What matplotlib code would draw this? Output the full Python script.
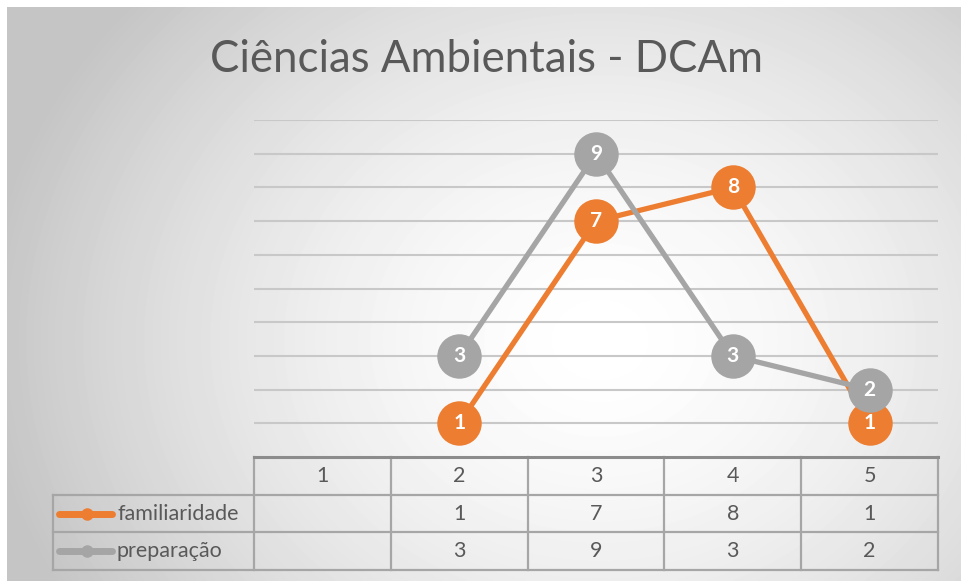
import numpy as np
import matplotlib
matplotlib.use("Agg")
from matplotlib import pyplot as plt

# ---------------------------- Dados ---------------------------- #
categorias = [1, 2, 3, 4, 5]
familiaridade = [None, 1, 7, 8, 1]
preparacao = [None, 3, 9, 3, 2]
series_nomes = ["familiaridade", "preparação"]
cores = ["#ED7D31", "#A5A5A5"]

titulo = "Ciências Ambientais - DCAm"

plt.rcParams["font.family"] = ["Lato", "DejaVu Sans"]
texto_cor = "#595959"
linha_tabela = "#A6A6A6"

# ---------------------------- Figura ---------------------------- #
W, H = 962, 581
fig = plt.figure(figsize=(W / 100, H / 100), dpi=100)
fig.patch.set_facecolor("white")

# fundo com gradiente radial (estilo Excel)
bg = fig.add_axes([7 / W, 0, (W - 7) / W, (H - 7) / H])
yy, xx = np.mgrid[7:H, 7:W]
r = np.sqrt(((xx - 600) / 620) ** 2 + ((yy - 340) / 520) ** 2)
v = 1 - 0.23 * np.clip(r, 0, 1) ** 1.6
bg.imshow(v, cmap="gray", vmin=0, vmax=1, aspect="auto", interpolation="bilinear")
bg.set_axis_off()
bg.set_zorder(0)

# area do grafico
ax = fig.add_axes([254 / W, 1 - 457 / H, 684 / W, 337 / H])
ax.set_zorder(1)
ax.patch.set_alpha(0)
ax.set_xlim(0.5, 5.5)
ax.set_ylim(0, 10)
ax.set_yticks(range(1, 11))
ax.set_xticks([])
ax.tick_params(left=False, labelleft=False)
ax.grid(axis="y", color="#C8C8C8", linewidth=1.5)
for s in ax.spines.values():
    s.set_visible(False)

def para_array(valores):
    return np.array([np.nan if v is None else v for v in valores], dtype=float)

dados = [para_array(familiaridade), para_array(preparacao)]
for i, (y, cor) in enumerate(zip(dados, cores)):
    ax.plot(categorias, y, color=cor, linewidth=3.8, marker="o",
            markersize=32, markeredgewidth=0, zorder=3 + i, clip_on=False,
            solid_capstyle="round")

for y in dados:
    for x, val in zip(categorias, y):
        if not np.isnan(val):
            ax.text(x, val, f"{int(val)}", color="white", fontsize=15,
                    fontweight="bold", ha="center", va="center", zorder=10)

# ---------------------------- Tabela de dados ---------------------------- #
h = 37.7 / 337
esq = (53 - 254) / 684
n = len(categorias)
kw = dict(transform=ax.transAxes, clip_on=False, color=linha_tabela, linewidth=1.6)

ax.plot([0, 1], [0, 0], transform=ax.transAxes, clip_on=False,
        color="#8C8C8C", linewidth=2.2, zorder=5)
for k in range(1, 4):
    ax.plot([esq, 1], [-k * h, -k * h], **kw)
ax.plot([esq, esq], [-h, -3 * h], **kw)
for k in range(n + 1):
    ax.plot([k / n, k / n], [0, -3 * h], **kw)

fs_tab = 15.5
for k, c in enumerate(categorias):
    ax.text((k + 0.5) / n, -h / 2, str(c), transform=ax.transAxes,
            ha="center", va="center", fontsize=fs_tab, color=texto_cor)

for row, (vals, nome, cor) in enumerate(zip([familiaridade, preparacao], series_nomes, cores)):
    yc = -(row + 1.5) * h
    for k, val in enumerate(vals):
        if val is not None:
            ax.text((k + 0.5) / n, yc, str(val), transform=ax.transAxes,
                    ha="center", va="center", fontsize=fs_tab, color=texto_cor)
    # chave da legenda
    ax.plot([(59 - 254) / 684, (112 - 254) / 684], [yc, yc], transform=ax.transAxes,
            clip_on=False, color=cor, linewidth=5, solid_capstyle="round")
    ax.plot([(87 - 254) / 684], [yc], transform=ax.transAxes, clip_on=False,
            marker="o", markersize=9, color=cor, markeredgewidth=0)
    ax.text((117 - 254) / 684, yc, nome, transform=ax.transAxes,
            ha="left", va="center", fontsize=fs_tab, color=texto_cor)

# titulo
fig.text(487 / W, 1 - 60 / H, titulo, ha="center", va="center",
         fontsize=31.5, color=texto_cor)

fig.savefig("out.png", dpi=100)
